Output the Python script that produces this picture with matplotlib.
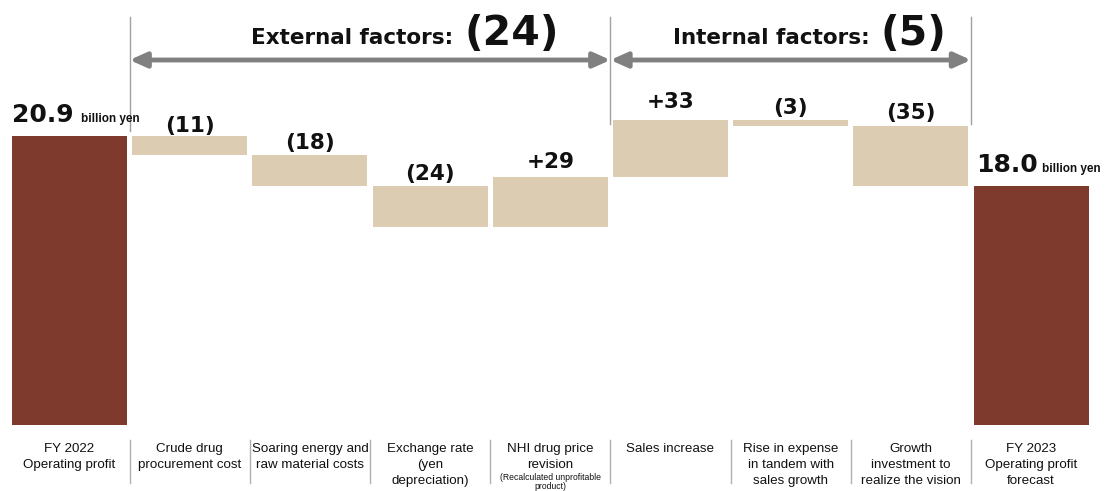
import matplotlib
matplotlib.use("Agg")
import matplotlib.pyplot as plt

# ---------------- data ----------------
categories = [
    "FY 2022\nOperating profit",
    "Crude drug\nprocurement cost",
    "Soaring energy and\nraw material costs",
    "Exchange rate\n(yen\ndepreciation)",
    "NHI drug price\nrevision",
    "Sales increase",
    "Rise in expense\nin tandem with\nsales growth",
    "Growth\ninvestment to\nrealize the vision",
    "FY 2023\nOperating profit\nforecast",
]
start_value = 209          # 100 million yen (20.9 billion yen)
deltas = [-11, -18, -24, 29, 33, -3, -35]
end_value = 180            # 18.0 billion yen
delta_labels = ["(11)", "(18)", "(24)", "+29", "+33", "(3)", "(35)"]
start_label = "20.9"
end_label = "18.0"
unit_label = "billion yen"
groups = [("External factors:", "(24)", 0.5, 4.5), ("Internal factors:", "(5)", 4.5, 7.5)]
nhi_note = "(Recalculated unprofitable\nproduct)"

# ---------------- style ----------------
W, H, DPI = 1113, 491, 100
MAROON = "#7F3A2E"
BEIGE = "#DBCCB2"
GRAY = "#808080"
BAR_W = 0.957
FONT_B = "DejaVu Sans"
FONT_L = "Liberation Sans"

fig = plt.figure(figsize=(W / DPI, H / DPI), dpi=DPI)
ax_bottom_px = 425
ax = fig.add_axes([0, (H - ax_bottom_px) / H, 1, ax_bottom_px / H])
x0_px, step_px = 69.5, 120.2
ax.set_xlim(-x0_px / step_px, (W - x0_px) / step_px)
scale = 1.724
ytop = start_value + 136 / scale
ax.set_ylim(ytop - ax_bottom_px / scale, ytop)
ax.axis("off")


def px_x(px):
    return (px - x0_px) / step_px


def px_y(py):
    return ytop - py / scale


# bars
ax.bar(0, start_value, width=BAR_W, color=MAROON, zorder=2)
running = start_value
label_offsets = [3, 4, 4, 7, 9, 5, 5]
for i, (d, lab, off) in enumerate(zip(deltas, delta_labels, label_offsets), start=1):
    lo, hi = sorted([running, running + d])
    ax.bar(i, hi - lo, bottom=lo, width=BAR_W, color=BEIGE, zorder=2)
    ax.annotate(lab, (i, hi), xytext=(0, off), textcoords="offset points",
                ha="center", va="baseline", fontsize=15.5, fontweight="bold",
                family=FONT_B, color="#111111")
    running += d
n = len(categories) - 1
ax.bar(n, end_value, width=BAR_W, color=MAROON, zorder=2)

# start / end value labels
ax.annotate(start_label, (0 - BAR_W / 2, start_value), xytext=(0, 10),
            textcoords="offset points", ha="left", va="baseline",
            fontsize=18, fontweight="bold", family=FONT_B, color="#111111")
ax.text(px_x(81), px_y(122), unit_label, ha="left", va="baseline",
        fontsize=8.5, fontweight="bold", family=FONT_L, color="#111111")
ax.annotate(end_label, (n - BAR_W / 2, end_value), xytext=(2, 10),
            textcoords="offset points", ha="left", va="baseline",
            fontsize=18, fontweight="bold", family=FONT_B, color="#111111")
ax.text(px_x(1042), px_y(172), unit_label, ha="left", va="baseline",
        fontsize=8.5, fontweight="bold", family=FONT_L, color="#111111")

# group brackets
title_pos = {"External factors:": (453, 464), "Internal factors:": (870, 880)}
for name, val, xa, xb in groups:
    ax.annotate("", xy=(xa, px_y(60)), xytext=(xb, px_y(60)),
                arrowprops=dict(arrowstyle="<|-|>,head_length=1.0,head_width=0.45",
                                color=GRAY, lw=3.5, shrinkA=0, shrinkB=0),
                zorder=3)
    rx, lx = title_pos[name]
    ax.text(px_x(rx), px_y(44), name, ha="right", va="baseline",
            fontsize=15.5, fontweight="bold", family=FONT_B, color="#111111")
    ax.text(px_x(lx), px_y(45), val, ha="left", va="baseline",
            fontsize=29.5, fontweight="bold", family=FONT_B, color="#111111")

for xv, yb in [(0.5, 131), (4.5, 124), (7.5, 124)]:
    ax.plot([xv, xv], [px_y(17), px_y(yb)], color="#A0A0A0", lw=1, zorder=1)

# category labels and separators below the axes
trans = ax.get_xaxis_transform()
ax_h = ax_bottom_px
for i, cat in enumerate(categories):
    ax.text(i, (ax_h - 443) / ax_h, cat, transform=trans, ha="center", va="top",
            fontsize=9.6, family=FONT_L, color="#111111", linespacing=1.45,
            clip_on=False)
ax.text(4, (ax_h - 473) / ax_h, nhi_note, transform=trans, ha="center", va="top",
        fontsize=6.2, family=FONT_L, color="#111111", linespacing=1.05,
        clip_on=False)
for i in range(len(categories) - 1):
    xv = i + 0.5
    ax.plot([xv, xv], [(ax_h - 440) / ax_h, (ax_h - 483) / ax_h], transform=trans,
            color="#B0B0B0", lw=1, clip_on=False)

fig.savefig("out.png", dpi=DPI)
